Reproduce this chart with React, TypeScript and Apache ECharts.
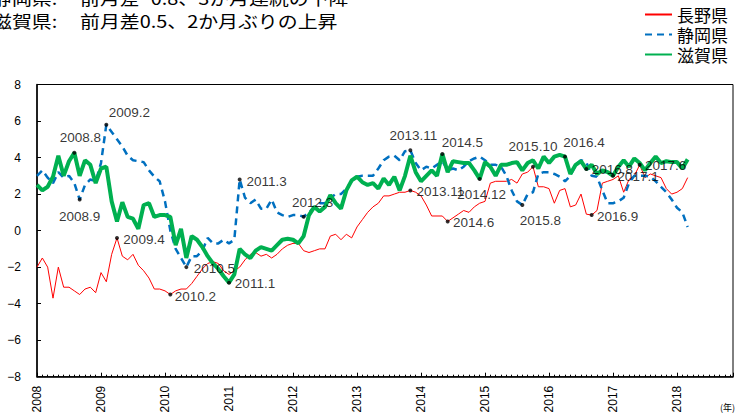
import React, { useEffect, useRef } from "react";
import * as echarts from "echarts";

const startYear = 2008;
const yearLabels = ["2008", "2009", "2010", "2011", "2012", "2013", "2014", "2015", "2016", "2017", "2018"];
const seriesNames = ["長野県", "静岡県", "滋賀県"];

// monthly values, Jan 2008 - Mar 2018
const naganoValues = [
  -2.0, -1.5, -2.0, -3.7, -2.0, -3.1, -3.1, -3.3, -3.5, -3.2, -3.1, -3.4,
  -2.3, -2.8, -1.3, -0.4, -1.4, -1.6, -1.3, -1.9, -2.2, -2.6, -3.2, -3.2,
  -3.3, -3.5, -3.3, -3.2, -3.2, -2.9, -2.5, -2.1, -1.8, -1.7, -1.8, -2.2,
  -2.4, -2.2, -2.0, -1.6, -1.3, -1.2, -1.4, -1.3, -1.5, -1.3, -1.0, -0.8,
  -0.7, -0.7, -1.1, -1.2, -1.1, -1.0, -1.0, -0.3, -0.2, -0.5, -0.2, -0.4,
  0.2, 0.6, 1.0, 1.3, 1.5, 1.9, 1.9, 2.0, 2.1, 2.1, 2.2, 2.1,
  1.9, 1.4, 0.8, 0.8, 0.8, 0.5, 0.7, 0.9, 1.1, 1.0, 1.3, 1.5,
  1.6, 2.6, 2.7, 2.7, 2.7, 2.8, 2.6, 3.1, 3.2, 3.5, 2.4, 2.4,
  2.3, 1.5, 2.2, 2.3, 1.3, 1.4, 2.0, 0.9, 0.85, 1.1, 2.6, 2.7,
  2.8, 3.0, 2.1, 2.8, 3.0, 3.6, 2.9, 3.1, 3.0, 2.9, 2.3, 2.0,
  2.1, 2.3, 2.9,
];
const shizuokaValues = [
  3.0, 3.3, 2.9, 2.6, 3.2, 2.9, 3.0, 2.6, 1.7, 2.5, 2.8, 2.7,
  3.7, 5.8, 5.4, 5.0, 4.6, 4.1, 3.85, 3.8, 3.75, 3.3, 2.95, 2.7,
  1.6, 0.0, -1.0, -1.5, -2.0, -1.4, -1.4, -1.1, -0.4, -0.7, -0.7, -0.5,
  -0.7, -0.5, 2.8, 1.8, 1.5, 1.7, 1.2, 1.2, 1.7, 1.0, 0.85, 0.75,
  0.85, 0.85, 0.76, 1.0, 1.3, 1.5, 1.5, 1.8, 2.0, 2.0, 2.3, 2.7,
  2.95, 3.0, 3.0, 3.0, 3.4, 3.85, 4.05, 4.1, 3.85, 4.35, 4.4, 3.7,
  3.3, 3.5, 3.4, 3.6, 3.8, 3.3, 3.4, 3.3, 3.5, 3.8, 3.95, 4.05,
  3.85, 3.6, 3.6, 3.5, 3.0, 2.2, 1.6, 1.4, 2.0, 2.1, 3.1, 3.2,
  3.2, 3.1, 2.95, 2.7, 3.0, 3.6, 3.85, 3.75, 3.0, 2.95, 2.2, 1.5,
  1.5, 1.6, 1.8, 2.6, 3.0, 3.0, 3.0, 2.95, 2.7, 2.4, 2.1, 1.7,
  1.25, 1.0, 0.2,
];
const shigaValues = [
  2.5, 2.2, 2.4, 2.95, 4.1, 3.0, 3.8, 4.26, 3.0, 3.85, 3.6, 2.6,
  3.4, 3.5, 1.6, 0.5, 1.55, 0.75, 0.65, 0.1, 1.4, 1.5, 0.75, 0.85,
  0.85, 0.75, -0.8, 0.1, -1.5, -0.3, -0.5, -0.9, -1.4, -1.8, -2.1, -2.5,
  -2.85, -2.4, -1.0, -1.3, -1.5, -1.1, -0.9, -1.0, -1.1, -0.8, -0.5, -0.45,
  -0.5, -0.7, -0.3, 0.85, 1.3, 1.05, 1.3, 1.95, 1.5, 1.2, 2.2, 2.75,
  2.95, 2.65, 2.5, 2.6, 2.3, 2.85, 2.5, 2.95, 2.2, 3.0, 4.1, 3.2,
  2.7, 3.0, 3.3, 3.0, 4.2, 3.2, 3.8, 3.75, 3.7, 3.7, 3.3, 2.83,
  3.75, 3.5, 3.0, 3.6, 3.6, 3.7, 3.75, 3.3, 3.7, 3.85, 3.4, 4.05,
  3.7, 4.05, 4.15, 4.05, 3.1, 3.6, 3.8, 3.37, 3.6, 3.1, 3.3, 3.2,
  3.0, 3.5, 3.85, 3.5, 3.95, 3.7, 3.3, 3.7, 4.05, 3.7, 3.8, 3.75,
  3.75, 3.4, 3.9,
];

// annotated points: label, series index (0 長野,1 静岡,2 滋賀), month index from Jan 2008
const annotationLabels = [
  "2008.8", "2008.9", "2009.2", "2009.4", "2010.2", "2010.5", "2011.1", "2011.3", "2012.3",
  "2013.11", "2013.11", "2014.5", "2014.6", "2014.12", "2015.8", "2015.10", "2016.4",
  "2016.8", "2016.9", "2017.1", "2017.6",
];
const annotationSeries = [2, 1, 1, 0, 0, 1, 2, 1, 1, 1, 0, 2, 0, 2, 1, 0, 2, 2, 0, 2, 0];
const annotationMonths = [7, 8, 13, 15, 25, 28, 36, 38, 50, 70, 70, 76, 77, 83, 91, 93, 99, 103, 104, 108, 113];

// label placement relative to the dot (layout only)
const annotationOffsets: number[][] = [
  [6, -15], [0, 17], [23, -12], [27, 2], [25, 2], [28, 1], [26, 1], [27, 2], [9, -14],
  [3, -15], [30, 1], [20, -11], [26, 1], [2, 16], [18, 15], [0, -20], [19, -14],
  [26, 0], [26, 1], [25, 1], [26, 1],
];

const FONT = "'Liberation Sans', Arial, sans-serif";
const JFONT = "'Noto Sans CJK JP', sans-serif";

export default function App() {
  const ref = useRef<HTMLDivElement>(null);
  useEffect(() => {
    if (!ref.current) return;
    const chart = echarts.init(ref.current, null, { renderer: "svg" });
    const allValues = [naganoValues, shizuokaValues, shigaValues];
    const toPairs = (arr: number[]) => arr.map((v, i) => [i, v]);
    const minus = (v: number) => (v < 0 ? "−" + Math.abs(v) : String(v));

    const annData = annotationLabels.map((lab, k) => ({
      name: lab,
      value: [annotationMonths[k], allValues[annotationSeries[k]][annotationMonths[k]]],
      label: { offset: annotationOffsets[k] },
    }));

    const titleText = (text: string, x: number, y: number) => ({
      type: "text",
      x,
      y,
      scaleX: 1.17,
      style: { text, fontSize: 17, lineHeight: 18, fill: "#000", fontFamily: JFONT, verticalAlign: "middle", align: "left" },
    });

    chart.setOption({
      animation: false,
      backgroundColor: "#fff",
      grid: {
        left: 37, right: 3, top: 84.5, bottom: 39.3,
        show: true, borderColor: "#000", borderWidth: 1, backgroundColor: "transparent",
      },
      legend: {
        data: seriesNames,
        orient: "vertical",
        right: 8,
        top: 6,
        padding: 0,
        itemWidth: 27,
        itemHeight: 14,
        itemGap: 3,
        itemStyle: { opacity: 0 },
        textStyle: { fontSize: 17, lineHeight: 17, color: "#000", fontFamily: JFONT },
      },
      xAxis: {
        type: "value",
        min: 0,
        max: 130.5,
        interval: 12,
        axisLine: { show: true, onZero: false, lineStyle: { color: "#000", width: 1.5 } },
        axisTick: { show: true, inside: true, length: 4, lineStyle: { color: "#000" } },
        minorTick: { show: true, splitNumber: 12, length: 2, lineStyle: { color: "#000" } },
        splitLine: { show: false },
        minorSplitLine: { show: false },
        axisLabel: {
          rotate: 90,
          margin: 9,
          fontSize: 12,
          color: "#000",
          fontFamily: FONT,
          showMaxLabel: false,
          formatter: (v: number) => (v % 12 === 0 ? yearLabels[v / 12] ?? String(startYear + v / 12) : ""),
        },
      },
      yAxis: {
        type: "value",
        min: -8,
        max: 8,
        interval: 2,
        axisLine: { show: true, onZero: false, lineStyle: { color: "#000", width: 1.5 } },
        axisTick: { show: true, inside: true, length: 4, lineStyle: { color: "#000" } },
        splitLine: { show: false },
        axisLabel: { margin: 16, fontSize: 12, color: "#000", fontFamily: FONT, formatter: minus },
      },
      graphic: [
        titleText("静岡県:", -8, -2),
        titleText("前月差−0.8、3か月連続の下降", 80, -2),
        titleText("滋賀県:", -8, 21),
        titleText("前月差0.5、2か月ぶりの上昇", 80, 21),
        { type: "text", right: 1, top: 403, style: { text: "(年)", fontSize: 9, fill: "#000", fontFamily: JFONT } },
      ],
      series: [
        {
          name: seriesNames[0], type: "line", data: toPairs(naganoValues), symbol: "none",
          lineStyle: { color: "#ff0000", width: 1 }, itemStyle: { color: "#ff0000" }, z: 2,
        },
        {
          name: seriesNames[1], type: "line", data: toPairs(shizuokaValues), symbol: "none",
          lineStyle: { color: "#0070c0", width: 2.5, type: [7, 5] }, itemStyle: { color: "#0070c0" }, z: 3,
        },
        {
          name: seriesNames[2], type: "line", data: toPairs(shigaValues), symbol: "none",
          lineStyle: { color: "#00b050", width: 4 }, itemStyle: { color: "#00b050" }, z: 4,
        },
        {
          name: "annotations", type: "scatter", data: annData, symbolSize: 4, z: 10,
          itemStyle: { color: "#000" },
          label: {
            show: true, position: "inside", formatter: "{b}", fontSize: 13.5, color: "#000",
            fontFamily: FONT, align: "center", verticalAlign: "middle",
          },
        },
      ],
    });
    return () => chart.dispose();
  }, []);
  return <div ref={ref} style={{ position: "absolute", left: 0, top: 0, width: 736, height: 416 }} />;
}
